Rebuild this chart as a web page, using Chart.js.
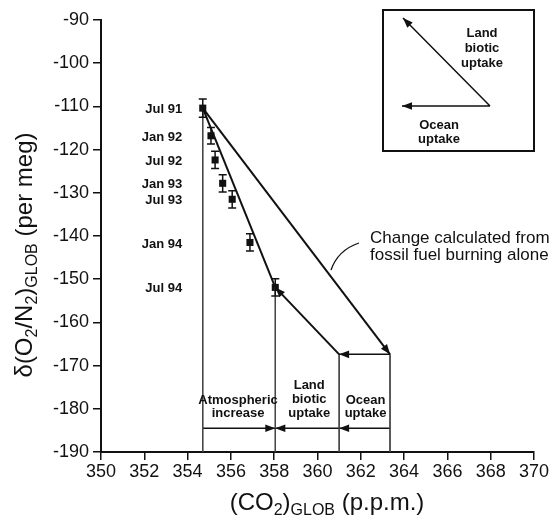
<!DOCTYPE html>
<html><head><meta charset="utf-8">
<script src="https://cdn.jsdelivr.net/npm/chart.js@4.4.1/dist/chart.umd.min.js"></script>
<style>html,body{margin:0;padding:0;background:#fff;}#wrap{width:553px;height:522px;}</style>
</head><body><div id="wrap"><canvas id="c" width="553" height="522"></canvas></div>
<script>
// ---- data ----
const months = ['Jul 91','Jan 92','Jul 92','Jan 93','Jul 93','Jan 94','Jul 94'];
const co2 = [354.70, 355.08, 355.27, 355.62, 356.06, 356.88, 358.05];
const o2 = [-110.4, -116.8, -122.4, -127.8, -131.5, -141.5, -151.9];
const errBars = [2.1, 1.9, 2.0, 2.0, 2.0, 2.0, 2.0];
const fossilEndCO2 = 363.35;      // end of fossil-fuel-only vector
const vectorEndO2 = -167.4;       // O2 level at end of fossil vector
const oceanEndCO2 = 361.0;        // end of ocean-uptake vector
const bracketO2 = -184.5;         // level of the lower bracket arrows
const xTicks = [350,352,354,356,358,360,362,364,366,368,370];
const yTicks = [-190,-180,-170,-160,-150,-140,-130,-120,-110,-100,-90];

const FONT = '"Liberation Sans", Arial, Helvetica, sans-serif';
const last = co2.length - 1;
const P = (x, y) => ({x, y});

function lineDS(pts, w, arrow, color) {
  return {type:'scatter', data: pts, showLine: true, borderColor: color || '#111',
    borderWidth: w, pointRadius: 0, pointHoverRadius: 0, fill: false, arrow: !!arrow, tension: 0};
}

const datasets = [
  lineDS([P(co2[0], o2[0]), P(co2[last], o2[last])], 2),
  lineDS([P(co2[0], o2[0]), P(fossilEndCO2, vectorEndO2)], 2, true),
  lineDS([P(fossilEndCO2, vectorEndO2), P(oceanEndCO2, vectorEndO2)], 1.5, true),
  lineDS([P(oceanEndCO2, vectorEndO2), P(co2[last], o2[last])], 2, true),
  lineDS([P(co2[0], o2[0]), P(co2[0], yTicks[0])], 1, false, '#444'),
  lineDS([P(co2[last], o2[last]), P(co2[last], yTicks[0])], 1, false, '#444'),
  lineDS([P(oceanEndCO2, vectorEndO2), P(oceanEndCO2, yTicks[0])], 1, false, '#444'),
  lineDS([P(fossilEndCO2, vectorEndO2), P(fossilEndCO2, yTicks[0])], 1, false, '#444'),
  lineDS([P(co2[0], bracketO2), P(co2[last], bracketO2)], 1.5, true),
  lineDS([P(oceanEndCO2, bracketO2), P(co2[last], bracketO2)], 1.5, true),
  lineDS([P(fossilEndCO2, bracketO2), P(oceanEndCO2, bracketO2)], 1.5, true),
  {type:'scatter', data: co2.map((c,i)=>P(c,o2[i])), pointStyle:'rect', pointRadius:5,
   pointBackgroundColor:'#111', pointBorderColor:'#111', pointBorderWidth:0, showLine:false}
];

function arrowHead(ctx, x0, y0, x1, y1, len, hw) {
  const a = Math.atan2(y1 - y0, x1 - x0);
  ctx.save();
  ctx.translate(x1, y1); ctx.rotate(a);
  ctx.beginPath(); ctx.moveTo(0,0); ctx.lineTo(-len, -hw); ctx.lineTo(-len, hw); ctx.closePath();
  ctx.fillStyle = '#111'; ctx.fill();
  ctx.restore();
}

function drawSegs(ctx, segs, x, y, align) {
  let total = 0;
  segs.forEach(s => { ctx.font = s.f; total += ctx.measureText(s.t).width; });
  let cx = align === 'center' ? x - total/2 : x;
  segs.forEach(s => { ctx.font = s.f; ctx.fillText(s.t, cx, y + (s.dy||0)); cx += ctx.measureText(s.t).width; });
}

const deco = {
  id:'deco',
  afterDatasetsDraw(chart) {
    const ctx = chart.ctx, xs = chart.scales.x, ys = chart.scales.y;
    ctx.save();
    chart.data.datasets.forEach((ds, i) => {
      if (!ds.arrow) return;
      const m = chart.getDatasetMeta(i).data;
      const a = m[m.length-2], b = m[m.length-1];
      arrowHead(ctx, a.x, a.y, b.x, b.y, 10, 3.8);
    });
    ctx.strokeStyle = '#111'; ctx.lineWidth = 1.5;
    co2.forEach((c, i) => {
      const px = xs.getPixelForValue(c);
      const t = ys.getPixelForValue(o2[i] + errBars[i]);
      const b = ys.getPixelForValue(o2[i] - errBars[i]);
      ctx.beginPath();
      ctx.moveTo(px, t); ctx.lineTo(px, b);
      ctx.moveTo(px-4, t); ctx.lineTo(px+4, t);
      ctx.moveTo(px-4, b); ctx.lineTo(px+4, b);
      ctx.stroke();
    });
    ctx.fillStyle = '#111';
    ctx.font = 'bold 13px ' + FONT; ctx.textAlign = 'right'; ctx.textBaseline = 'middle';
    const lx = xs.getPixelForValue(353.75);
    months.forEach((m, i) => ctx.fillText(m, lx, ys.getPixelForValue(o2[i]) + 1.5));
    ctx.textAlign = 'center';
    const x0 = xs.getPixelForValue(co2[0]), x1 = xs.getPixelForValue(co2[last]);
    const x2 = xs.getPixelForValue(oceanEndCO2), x3 = xs.getPixelForValue(fossilEndCO2);
    const by = ys.getPixelForValue(bracketO2);
    ctx.fillText('Atmospheric', (x0+x1)/2 - 1, by - 28);
    ctx.fillText('increase', (x0+x1)/2 - 1, by - 15);
    ctx.fillText('Land', (x1+x2)/2 + 2, by - 43);
    ctx.fillText('biotic', (x1+x2)/2 + 2, by - 29);
    ctx.fillText('uptake', (x1+x2)/2 + 2, by - 15);
    ctx.fillText('Ocean', (x2+x3)/2 + 1, by - 28);
    ctx.fillText('uptake', (x2+x3)/2 + 1, by - 15);
    ctx.font = '17px ' + FONT; ctx.textAlign = 'left';
    ctx.fillText('Change calculated from', 370, 238);
    ctx.fillText('fossil fuel burning alone', 370, 255);
    ctx.lineWidth = 1.3;
    ctx.beginPath(); ctx.moveTo(359, 243); ctx.quadraticCurveTo(338, 250, 331, 270); ctx.stroke();
    // inset schematic
    ctx.lineWidth = 2;
    ctx.strokeRect(383, 10, 151, 141);
    ctx.lineWidth = 1.5;
    ctx.beginPath(); ctx.moveTo(490, 106); ctx.lineTo(403, 18); ctx.moveTo(490,106); ctx.lineTo(402,106); ctx.stroke();
    arrowHead(ctx, 490, 106, 403, 18, 10, 3.8);
    arrowHead(ctx, 490, 106, 402, 106, 10, 3.8);
    ctx.font = 'bold 13px ' + FONT; ctx.textAlign = 'center';
    ctx.fillText('Land', 482, 33); ctx.fillText('biotic', 482, 48); ctx.fillText('uptake', 482, 63);
    ctx.fillText('Ocean', 439, 125); ctx.fillText('uptake', 439, 139);
    // axis titles
    ctx.textBaseline = 'alphabetic'; ctx.textAlign = 'left';
    const big = '24px ' + FONT, sub = '16px ' + FONT;
    drawSegs(ctx, [{t:'(CO',f:big},{t:'2',f:sub,dy:5},{t:')',f:big},{t:'GLOB',f:sub,dy:5},{t:' (p.p.m.)',f:big}], 327, 510, 'center');
    ctx.save(); ctx.translate(32, 255); ctx.rotate(-Math.PI/2);
    drawSegs(ctx, [{t:'\u03b4(O',f:big},{t:'2',f:sub,dy:5},{t:'/N',f:big},{t:'2',f:sub,dy:5},{t:')',f:big},{t:'GLOB',f:sub,dy:5},{t:' (per meg)',f:big}], 0, 0, 'center');
    ctx.restore();
    ctx.restore();
  }
};

const bg = { id:'bg', beforeDraw(c){ const x=c.ctx; x.save(); x.fillStyle='#fff'; x.fillRect(0,0,c.width,c.height); x.restore(); } };

new Chart(document.getElementById('c'), {
  type: 'scatter',
  data: { datasets },
  options: {
    responsive: false, animation: false, devicePixelRatio: 1,
    layout: { padding: { top: 20, right: 19, left: 0, bottom: 0 } },
    plugins: { legend: {display:false}, tooltip: {enabled:false}, title:{display:false} },
    scales: {
      x: { type:'linear', min: xTicks[0], max: xTicks[xTicks.length-1],
        afterBuildTicks: s => { s.ticks = xTicks.map(v => ({value: v})); },
        afterFit: s => { s.height = 70; },
        grid: { drawOnChartArea:false, drawTicks:true, tickLength:8, color:'#111', lineWidth:1.5 },
        border: { display:true, color:'#111', width:2 },
        ticks: { color:'#111', font:{family:FONT, size:18}, padding:1, maxRotation:0, autoSkip:false, callback: v => String(v) } },
      y: { type:'linear', min: yTicks[0], max: yTicks[yTicks.length-1],
        afterBuildTicks: s => { s.ticks = yTicks.map(v => ({value: v})); },
        afterFit: s => { s.width = 101; },
        grid: { drawOnChartArea:false, drawTicks:true, tickLength:8, color:'#111', lineWidth:1.5 },
        border: { display:true, color:'#111', width:2 },
        ticks: { color:'#111', font:{family:FONT, size:18}, padding:4, autoSkip:false, callback: v => String(v) } }
    }
  },
  plugins: [bg, deco]
});
</script></body></html>
